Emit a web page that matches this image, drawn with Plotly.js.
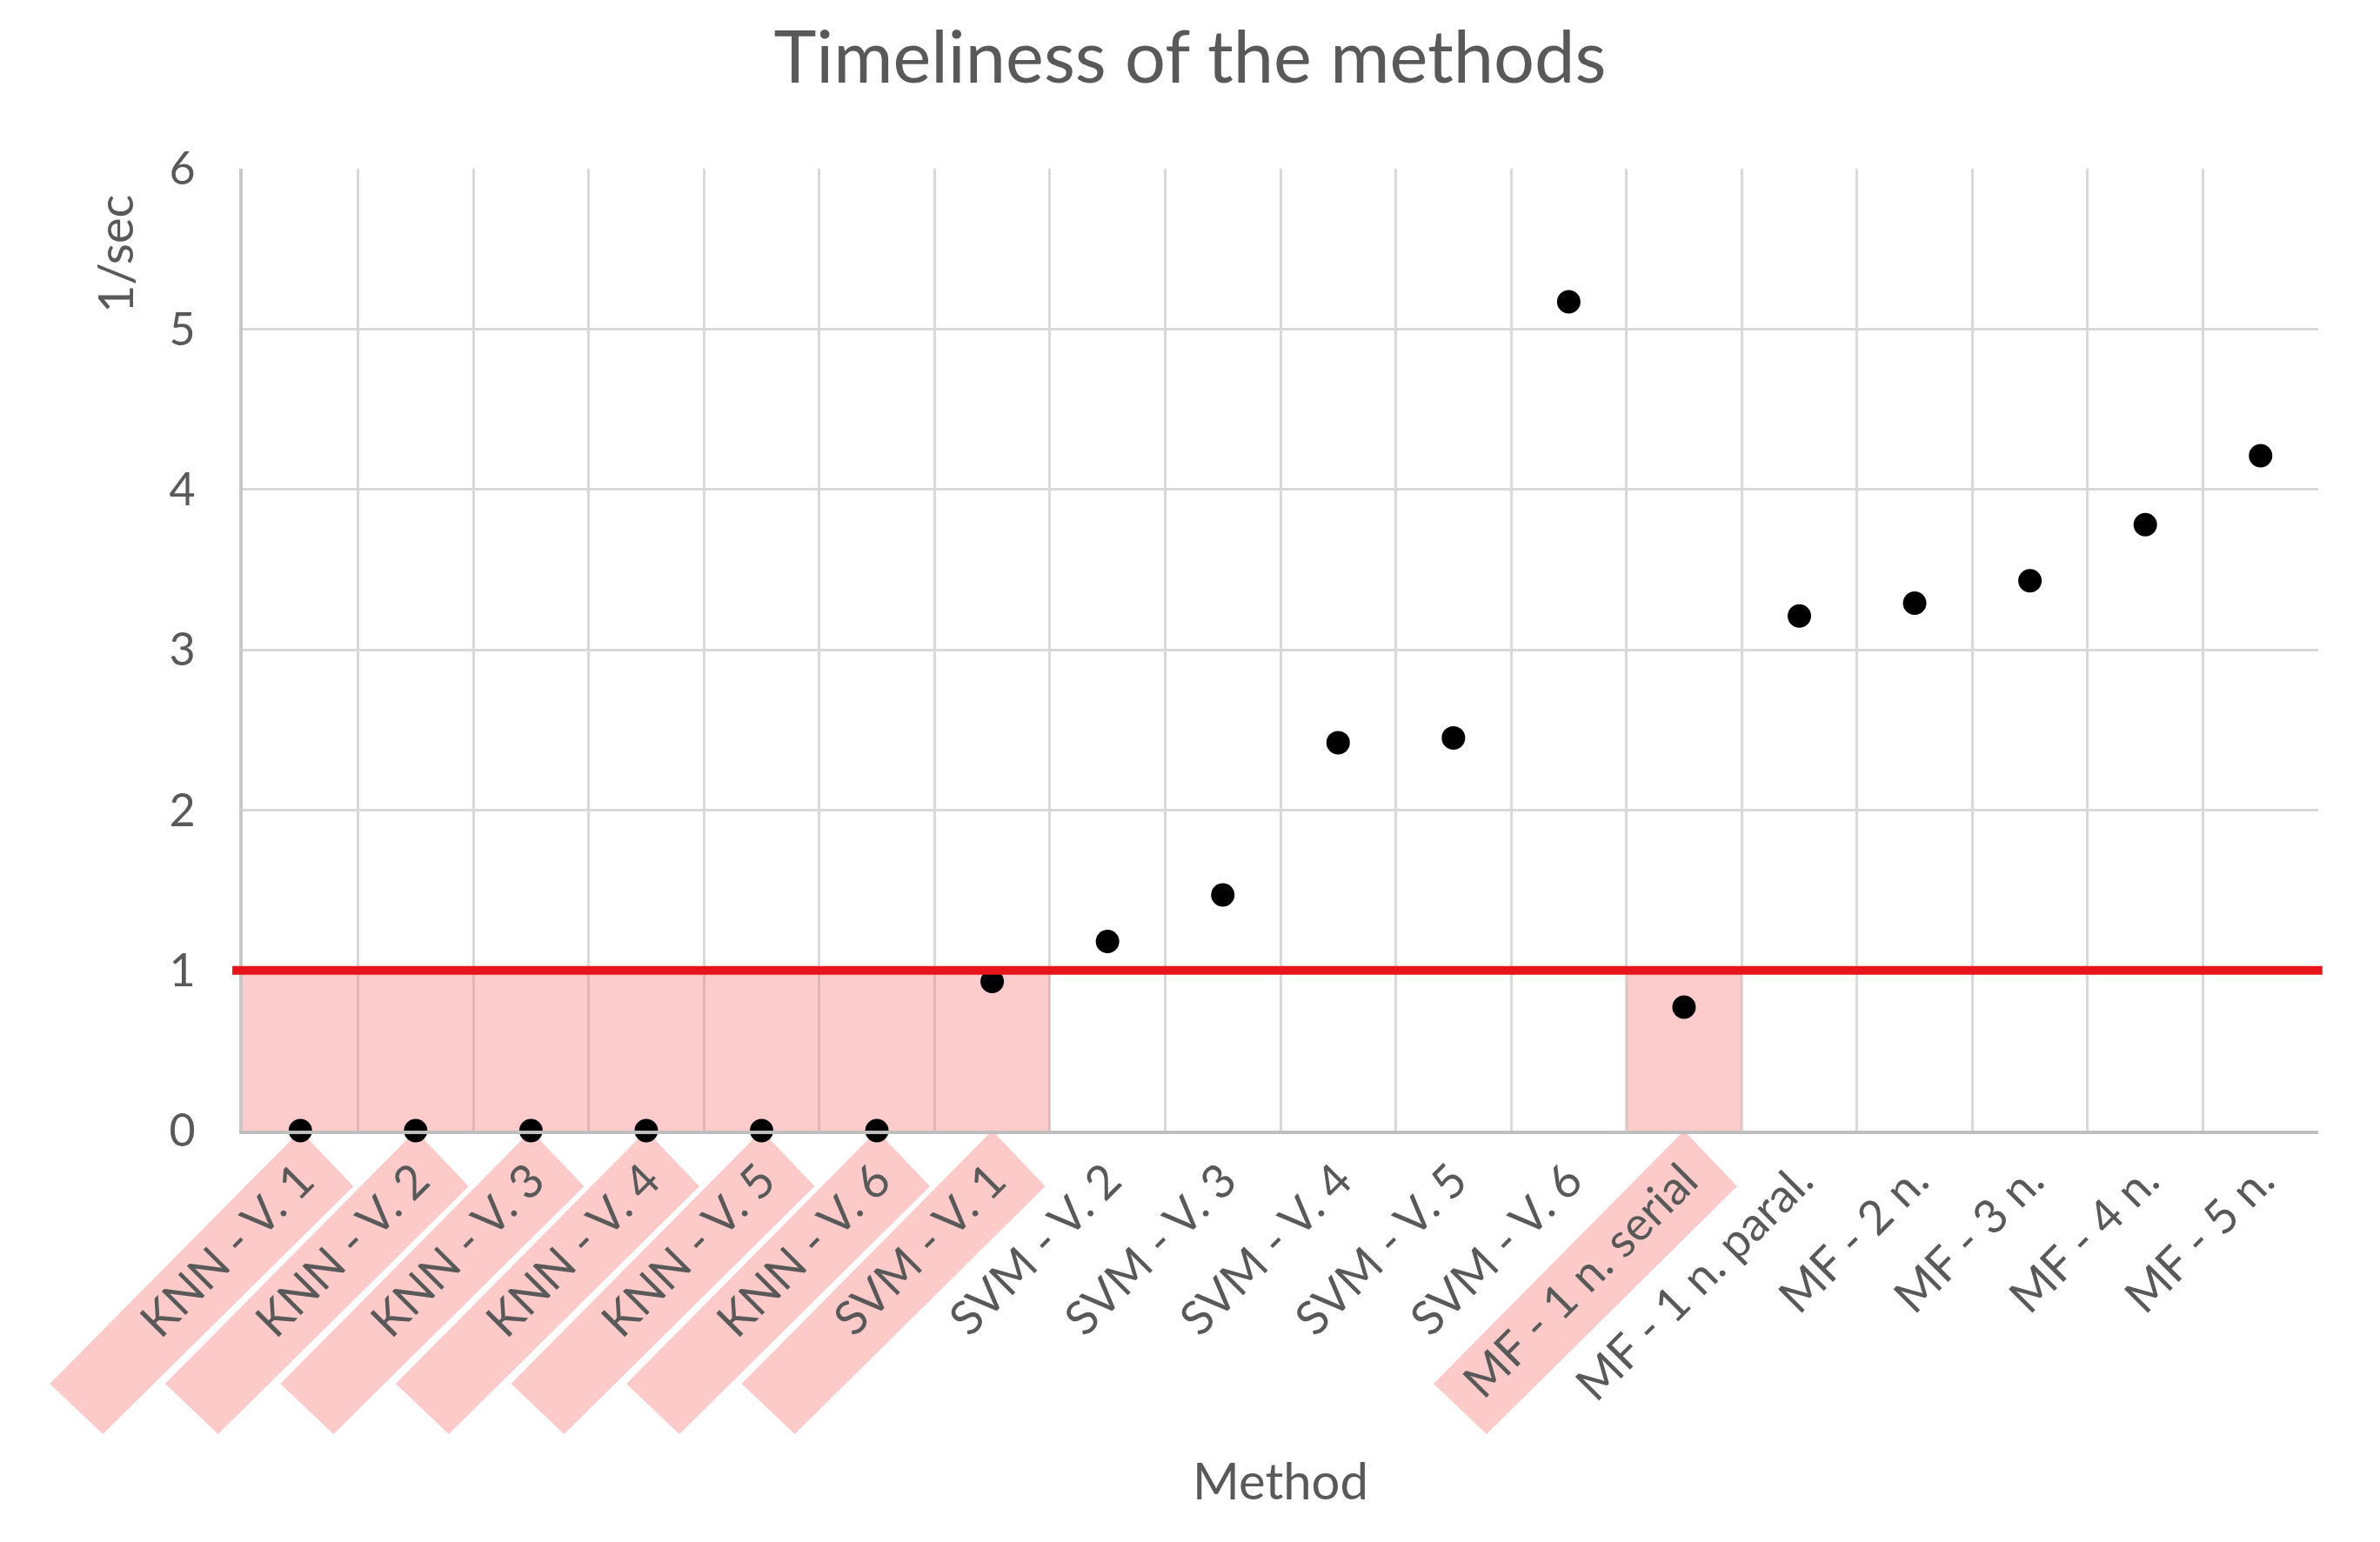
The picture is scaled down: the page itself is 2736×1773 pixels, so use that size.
<!DOCTYPE html>
<html>
<head>
<meta charset="utf-8">
<script src="https://cdn.plot.ly/plotly-3.0.1.min.js"></script>
<style>html,body{margin:0;padding:0;background:#fff;}#chart{width:2736px;height:1773px;}</style>
</head>
<body>
<div id="chart"></div>
<script>
// ---- data ----
const categories = [
  "KNN - V. 1", "KNN - V. 2", "KNN - V. 3", "KNN - V. 4", "KNN - V. 5", "KNN - V. 6",
  "SVM - V. 1", "SVM - V. 2", "SVM - V. 3", "SVM - V. 4", "SVM - V. 5", "SVM - V. 6",
  "MF - 1 n. serial", "MF - 1 n. paral.", "MF - 2 n.", "MF - 3 n.", "MF - 4 n.", "MF - 5 n."
];
const values = [0, 0, 0, 0, 0, 0, 0.93, 1.18, 1.47, 2.42, 2.45, 5.17, 0.77, 3.21, 3.29, 3.43, 3.78, 4.21];
const threshold = 1;
const yTicks = [0, 1, 2, 3, 4, 5, 6];

// ---- derived ----
const highlight = values.map(v => (v < threshold ? threshold : null));

const FONT = "Lato, 'Open Sans', sans-serif";
const GREY = "#595959";
const PINK_BOX = "#FDCACA";

const traces = [
  {
    type: "bar",
    x: categories,
    y: highlight,
    marker: { color: "rgba(247,120,120,0.38)", line: { width: 0 } },
    hoverinfo: "skip",
    showlegend: false
  },
  {
    type: "scatter",
    mode: "markers",
    x: categories,
    y: values,
    marker: { color: "#000000", size: 27, line: { width: 0 } },
    cliponaxis: false,
    showlegend: false
  }
];

// rotated label highlight boxes (pixel-sized, anchored at each highlighted tick)
const shapes = [];
categories.forEach((c, i) => {
  if (values[i] < threshold) {
    shapes.push({
      type: "path",
      xref: "paper", yref: "paper",
      xsizemode: "pixel", ysizemode: "pixel",
      xanchor: (i + 0.5) / categories.length,
      yanchor: 0,
      path: "M 0,0 L 61,-64 L -227,-349 L -288,-291 Z",
      fillcolor: PINK_BOX,
      line: { width: 0 },
      layer: "below"
    });
  }
});
shapes.push({
  type: "line",
  xref: "paper", yref: "y",
  x0: -0.005, x1: 1.002, y0: threshold, y1: threshold,
  line: { color: "#E8141C", width: 10 },
  layer: "above"
});

const layout = {
  width: 2736,
  height: 1773,
  paper_bgcolor: "#ffffff",
  plot_bgcolor: "#ffffff",
  margin: { l: 279, r: 71, t: 194, b: 473, pad: 0 },
  font: { family: FONT, color: GREY, size: 54 },
  title: {
    text: "Timeliness of the methods",
    font: { family: FONT, size: 83, color: GREY },
    x: 0.5, xref: "container", xanchor: "center",
    y: 1 - 66 / 1773, yref: "container", yanchor: "middle"
  },
  bargap: 0,
  showlegend: false,
  xaxis: {
    type: "category",
    range: [-0.5, categories.length - 0.5],
    autorange: false,
    tickson: "boundaries",
    tickangle: -45,
    showgrid: true,
    gridcolor: "#D9D9D9",
    gridwidth: 3,
    showline: true,
    linecolor: "#BFBFBF",
    linewidth: 4,
    ticks: "",
    tickfont: { family: FONT, size: 54, color: GREY },
    zeroline: false,
    fixedrange: true
  },
  yaxis: {
    range: [0, 6],
    autorange: false,
    tickvals: yTicks,
    ticktext: yTicks.map(String),
    showgrid: true,
    gridcolor: "#D9D9D9",
    gridwidth: 3,
    showline: true,
    linecolor: "#C8C8C8",
    linewidth: 4,
    zeroline: false,
    ticks: "outside",
    ticklen: 40,
    tickcolor: "rgba(0,0,0,0)",
    tickfont: { family: FONT, size: 52, color: GREY },
    fixedrange: true
  },
  shapes: shapes,
  annotations: [
    {
      text: "Method",
      xref: "paper", yref: "paper",
      x: 0.5, y: (0 - 401) / 1106,
      xanchor: "center", yanchor: "middle",
      showarrow: false,
      font: { family: FONT, size: 58, color: GREY }
    },
    {
      text: "1/sec",
      xref: "paper", yref: "paper",
      x: -148 / 2386, y: (1300 - 292) / 1106,
      xanchor: "center", yanchor: "middle",
      textangle: -90,
      showarrow: false,
      font: { family: FONT, size: 56, color: GREY }
    }
  ]
};

Plotly.newPlot("chart", traces, layout, { staticPlot: true, displayModeBar: false });
</script>
</body>
</html>
